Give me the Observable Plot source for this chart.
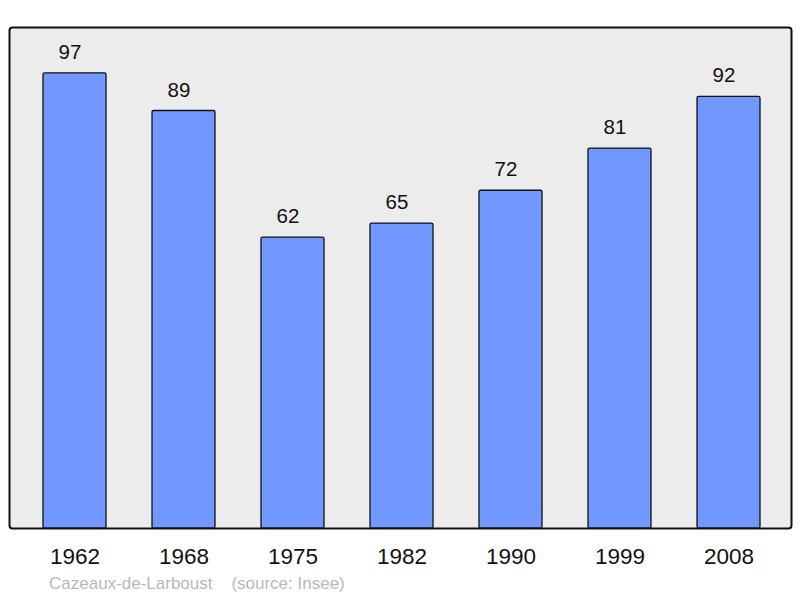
<!DOCTYPE html>
<html>
<head>
<meta charset="utf-8">
<script src="https://cdn.jsdelivr.net/npm/d3@7"></script>
<script src="https://cdn.jsdelivr.net/npm/@observablehq/plot@0.6"></script>
<style>
  body { margin: 0; background: #fff; font-family: "Liberation Sans", Arial, sans-serif; }
  #chart svg { display: block; }
  #caption { margin: 0; padding-left: 49px; margin-top: 4px; font-size: 17px; line-height: 20px; color: #b8b8b8; font-family: "Liberation Sans", Arial, sans-serif; white-space: pre; }
</style>
</head>
<body>
<div id="chart"></div>
<div id="caption">Cazeaux-de-Larboust    (source: Insee)</div>
<script>
const years = ["1962", "1968", "1975", "1982", "1990", "1999", "2008"];
const population = [97, 89, 62, 65, 72, 81, 92];

const data = years.map((year, i) => ({year, value: population[i]}));

const chart = Plot.plot({
  width: 800,
  height: 570,
  marginLeft: 9,
  marginRight: 9,
  marginTop: 27,
  marginBottom: 42,
  style: {fontFamily: "'Liberation Sans', Arial, sans-serif", background: "white"},
  x: {type: "band", domain: years, range: [41.5, 761.5], paddingInner: 0.424, paddingOuter: 0, label: null},
  y: {domain: [0, 106.8], axis: null},
  marks: [
    Plot.frame({fill: "#ececec", stroke: "#111", strokeWidth: 2, rx: 3}),
    Plot.barY(data, {x: "year", y: "value", fill: "#7098ff", stroke: "#111", strokeWidth: 1.3, rx: 1.5}),
    Plot.text(data, {x: "year", y: "value", text: d => String(d.value), dy: -21, dx: -5, fontSize: 20.5, fill: "#111"}),
    Plot.axisX({tickSize: 0, tickPadding: 20, fontSize: 22.5, color: "#111"})
  ]
});
document.getElementById("chart").appendChild(chart);
</script>
</body>
</html>
